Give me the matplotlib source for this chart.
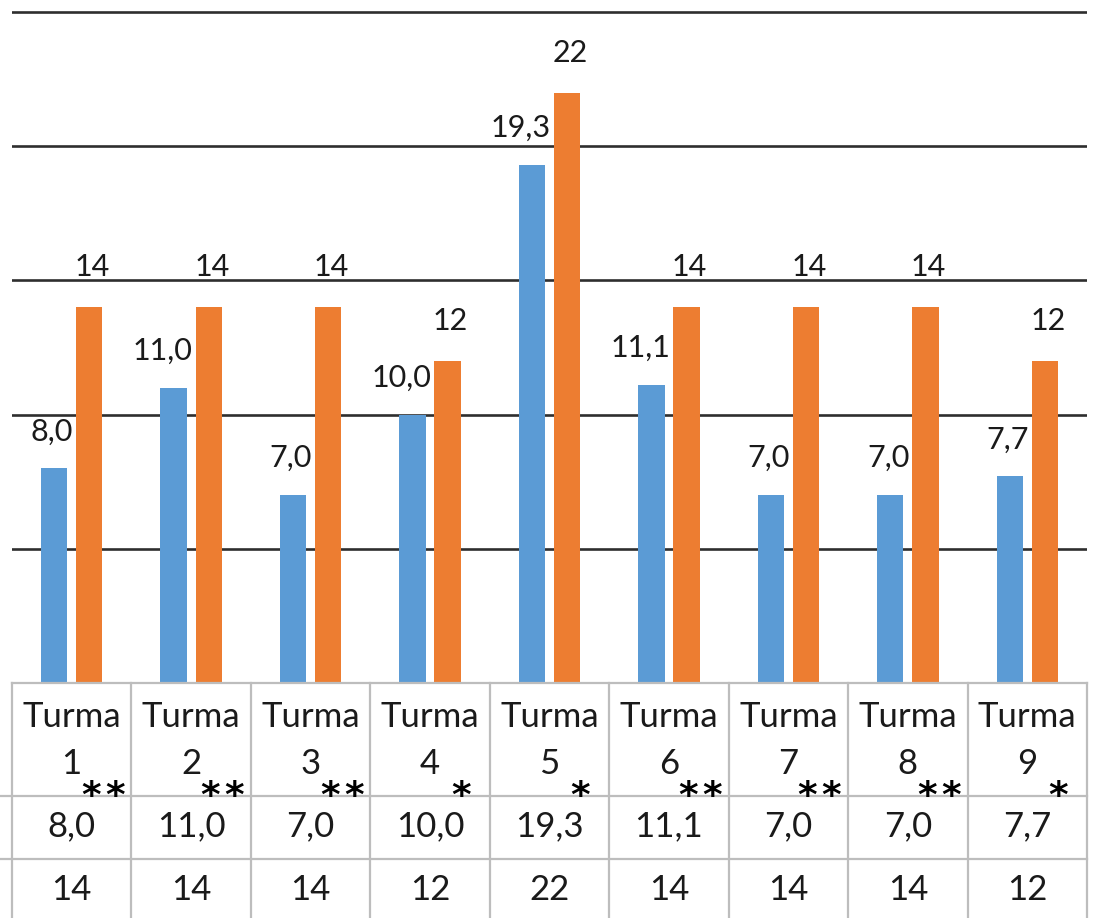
import matplotlib
matplotlib.use("Agg")
import matplotlib.pyplot as plt
import numpy as np

# dados por turma
turmas = ["Turma\n1", "Turma\n2", "Turma\n3", "Turma\n4", "Turma\n5",
          "Turma\n6", "Turma\n7", "Turma\n8", "Turma\n9"]
asteriscos = [2, 2, 2, 1, 1, 2, 2, 2, 1]  # quantidade de "*" por turma
serie_azul = [8.0, 11.0, 7.0, 10.0, 19.3, 11.1, 7.0, 7.0, 7.7]
serie_laranja = [14, 14, 14, 12, 22, 14, 14, 14, 12]

AZUL = "#5B9BD5"
LARANJA = "#ED7D31"
GRADE = "#2e2e2e"
TABELA = "#bdbdbd"
FONTE = "Lato"

W, H = 1097, 918
fig = plt.figure(figsize=(W / 100, H / 100), dpi=100)
plt.rcParams["font.family"] = [FONTE, "DejaVu Sans"]

# eixo principal das barras
ax = fig.add_axes([12 / W, 235 / H, 1075 / W, 683 / H])
n = len(turmas)
x = np.arange(n)
larg = 0.22
desl = 0.147

ax.bar(x - desl, serie_azul, width=larg, color=AZUL, zorder=3)
ax.bar(x + desl, serie_laranja, width=larg, color=LARANJA, zorder=3)

ax.set_xlim(-0.5, n - 0.5)
ax.set_ylim(0, 25.45)
for v in [5, 10, 15, 20, 25]:
    ax.axhline(v, color=GRADE, lw=1.9, zorder=1)
for s in ax.spines.values():
    s.set_visible(False)
ax.set_xticks([])
ax.set_yticks([])

# rótulos de valor
for i in range(n):
    ax.annotate(f"{serie_azul[i]:.1f}".replace(".", ","),
                xy=(x[i] - desl, serie_azul[i]), xytext=(19, 28),
                textcoords="offset pixels", ha="right", va="baseline",
                fontsize=22, color="#1a1a1a", zorder=4)
    ax.annotate(f"{serie_laranja[i]}",
                xy=(x[i] + desl, serie_laranja[i]), xytext=(3, 31),
                textcoords="offset pixels", ha="center", va="baseline",
                fontsize=22, color="#1a1a1a", zorder=4)

# tabela de dados abaixo do gráfico
tb = fig.add_axes([12 / W, 0, 1075 / W, 235 / H])
tb.set_xlim(-0.5, n - 0.5)
tb.set_ylim(235, 0)
tb.axis("off")
px = 1 / 119.44  # um pixel em unidades de categoria

tb.plot([-0.5, n - 0.5], [0, 0], color=TABELA, lw=1.6, clip_on=False)
for yl in [113, 176]:
    tb.plot([-0.5 - 12 * px, n - 0.5], [yl, yl], color=TABELA, lw=1.6,
            clip_on=False)
for xl in np.arange(-0.5, n, 1.0):
    tb.plot([xl, xl], [0, 240], color=TABELA, lw=1.6, clip_on=False)

for i in range(n):
    nome, num = turmas[i].split("\n")
    tb.text(x[i], 34, nome, ha="center", va="center", fontsize=25,
            color="#1a1a1a")
    tb.text(x[i], 81, num, ha="center", va="center", fontsize=25,
            color="#1a1a1a")
    k = asteriscos[i]
    for j in range(k):
        dx = (j - (k - 1) / 2) * 24
        tb.text(x[i] + (31 + dx) * px, 110, "*", ha="center",
                va="center_baseline", fontsize=27, fontweight="bold",
                color="black", family="DejaVu Sans", zorder=5)
    tb.text(x[i], 143, f"{serie_azul[i]:.1f}".replace(".", ","),
            ha="center", va="center", fontsize=25, color="#1a1a1a")
    tb.text(x[i], 207, f"{serie_laranja[i]}", ha="center", va="center",
            fontsize=25, color="#1a1a1a")

fig.savefig("out.png", dpi=100, facecolor="white")
